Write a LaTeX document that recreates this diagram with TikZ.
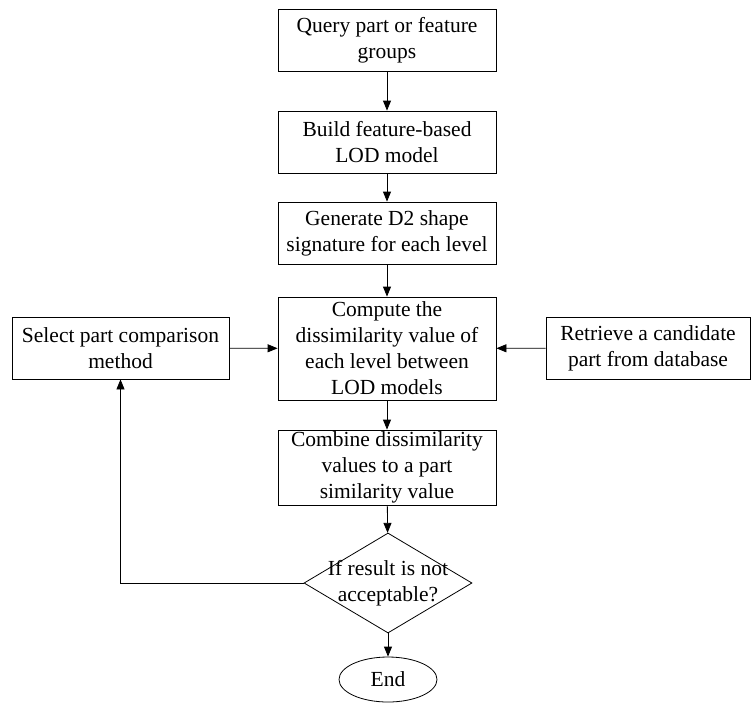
\documentclass[tikz,border=0pt]{standalone}
\usepackage{fontspec}
\setmainfont{Liberation Serif}
\usepackage{tikz}
\usetikzlibrary{shapes.geometric,arrows.meta,positioning}

\begin{document}
\begin{tikzpicture}[
    x=1pt, y=-1pt,
    font=\fontsize{21.5pt}{26pt}\selectfont,
    stepbox/.style={rectangle, minimum width=218pt, minimum height=62pt, inner sep=0pt, align=center, draw=black, line width=0.8pt},
    decision/.style={diamond, minimum width=168pt, minimum height=100pt, inner sep=0pt, draw=black, line width=0.8pt},
    stopnode/.style={ellipse, minimum width=98pt, minimum height=45pt, inner sep=0pt, draw=black, line width=0.8pt},
    arrow/.style={-{Triangle[length=10pt,width=8pt]}, line width=0.8pt},
]
\useasboundingbox (0,0) rectangle (754,702);

% Main column
\node[stepbox] (query) at (387,40) {Query part or feature\\groups};
\node[stepbox] (build) at (387,142) {Build feature-based\\LOD model};
\draw[arrow] (query) -- (build);

\node[stepbox] (signature) at (387,233) {Generate D2 shape\\signature for each level};
\draw[arrow] (build) -- (signature);

\node[stepbox, minimum height=103pt] (compute) at (387,348.5) {Compute the\\dissimilarity value of\\each level between\\LOD models};
\draw[arrow] (signature) -- (compute);

% Side inputs
\node[stepbox, minimum width=217pt] (select) at (120.5,348) {Select part comparison\\method};
\node[stepbox, minimum width=204pt] (retrieve) at (648,348) {Retrieve a candidate\\part from database};
\draw[arrow] (select) -- (compute);
\draw[arrow] (retrieve) -- (compute);

% Combine
\node[stepbox, minimum height=75pt] (combine) at (387,467.5) {Combine dissimilarity\\values to a part\\similarity value};
\draw[arrow] (compute) -- (combine);

% Decision
\node[decision, label={[align=center]center:If result is not\\acceptable?}] (check) at (388,583) {};
\draw[arrow] (combine) -- (check);
\draw[arrow] (check.west) -| (select.south);

% End
\node[stopnode] (finish) at (388,679.5) {End};
\draw[arrow] (check) -- (finish);
\end{tikzpicture}
\end{document}
